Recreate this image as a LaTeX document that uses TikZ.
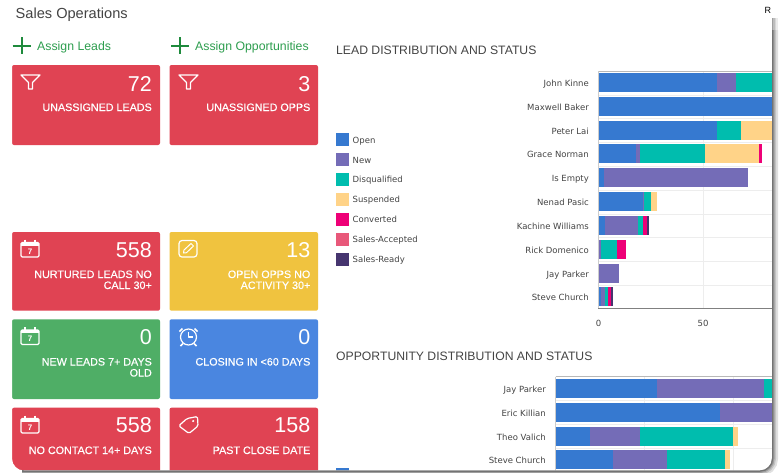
\documentclass[tikz,border=0pt]{standalone}
\usepackage{fontspec}
\setmainfont{Liberation Sans}
\newfontfamily\chartfont{DejaVu Sans}
\newfontfamily\cardfont[FakeBold=0.5]{Liberation Sans}
\definecolor{cred}{HTML}{E04353}
\definecolor{cyel}{HTML}{F0C33F}
\definecolor{cgrn}{HTML}{4FAE66}
\definecolor{cblu}{HTML}{4A86E0}
\definecolor{bO}{HTML}{3679D0}
\definecolor{bN}{HTML}{746CB7}
\definecolor{bD}{HTML}{00BDAE}
\definecolor{bS}{HTML}{FFD388}
\definecolor{bC}{HTML}{EE0077}
\definecolor{bA}{HTML}{E8587A}
\definecolor{bR}{HTML}{46356F}
\definecolor{txt}{HTML}{444444}
\definecolor{lnk}{HTML}{2E9E4F}
\definecolor{plus}{HTML}{1E8A3C}
\definecolor{gridc}{HTML}{EDEDED}
\tikzset{
 card/.style={fill=#1,rounded corners=2pt,draw=none},
 numtxt/.style={anchor=base east,inner sep=0pt,text=white,font=\fontsize{21.5}{22}\selectfont},
 labtxt/.style={anchor=base east,inner sep=0pt,text=white,align=right,font=\cardfont\fontsize{10.75}{11}\selectfont},
 title/.style={anchor=base west,inner sep=0pt,text=txt,font=\fontsize{12.2}{14}\selectfont},
 linktxt/.style={anchor=base west,inner sep=0pt,text=lnk,font=\fontsize{12.3}{14}\selectfont},
 rowlab/.style={anchor=base east,inner sep=0pt,text=txt,font=\chartfont\fontsize{8.5}{10}\selectfont},
 legtxt/.style={anchor=base west,inner sep=0pt,text=txt,font=\chartfont\fontsize{8.5}{10}\selectfont},
 ico/.style={draw=white,line width=1.2pt,line join=round},
 plusline/.style={draw=plus,line width=2pt},
}
\newcommand\iconfunnel[2]{\begin{scope}[shift={(#1,#2)}]
 \draw[ico] (0,0)--(19,0)--(11.5,7.5)--(11.5,14)--(7.5,14)--(7.5,7.5)--cycle;
\end{scope}}
\newcommand\iconcal[2]{\begin{scope}[shift={(#1,#2)}]
 \draw[ico,rounded corners=1.2pt] (0.5,3.5) rectangle (18.5,18);
 \fill[white] (0.5,3.5) rectangle (18.5,6.5);
 \draw[white,line width=1.6pt] (4.5,0.5)--(4.5,4) (14.5,0.5)--(14.5,4);
 \node[inner sep=0pt,text=white,font=\bfseries\fontsize{8}{8}\selectfont] (cal7#1x#2) at (9.5,12.5) {7};
\end{scope}}
\newcommand\barrow[3]{% top y, x0, list
 \foreach \c/\e [remember=\e as \p (initially #2)] in {#3}
  \fill[\c] (\p,#1) rectangle (\e,#1+18.8);
}
\begin{document}
\begin{tikzpicture}[x=1pt,y=-1pt]
\useasboundingbox (0,0) rectangle (779,472);
\fill[white] (0,0) rectangle (779,472);
% top texts
\node[anchor=base west,inner sep=0pt,text=txt,font=\fontsize{14.6}{16}\selectfont] (pagetitle) at (15.5,18) {Sales Operations};
\node[anchor=base west,inner sep=0pt,text=black,font=\fontsize{9}{10}\selectfont] (rcut) at (764.5,13) {R};
% assign links
\draw[plusline] (12.5,45.5)--(31,45.5) (21.8,37)--(21.8,54);
\draw[plusline] (171,45.5)--(189,45.5) (180,37)--(180,54);
\node[linktxt] (assignL) at (37,50) {Assign Leads};
\node[linktxt] (assignO) at (195,50) {Assign Opportunities};
% cards
\fill[card=cred] (12,65) rectangle (160,145);
\fill[card=cred] (169.5,65) rectangle (318,145);
\fill[card=cred] (12,232) rectangle (160,310.7);
\fill[card=cyel] (169.5,232) rectangle (318,310.7);
\fill[card=cgrn] (12,319.3) rectangle (160,399);
\fill[card=cblu] (169.5,319.3) rectangle (318,399);
\fill[card=cred] (12,407.7) rectangle (160,480);
\fill[card=cred] (169.5,407.7) rectangle (318,480);
% card text
\node[numtxt] (n1) at (152,91) {72};
\node[numtxt] (n2) at (310.5,91) {3};
\node[labtxt] (l1) at (152,111) {UNASSIGNED LEADS};
\node[labtxt] (l2) at (310.5,111) {UNASSIGNED OPPS};
\node[numtxt] (n3) at (152,257) {558};
\node[numtxt] (n4) at (310.5,257) {13};
\node[labtxt] (l3a) at (152,278) {NURTURED LEADS NO};
\node[labtxt] (l3b) at (152,289) {CALL 30+};
\node[labtxt] (l4a) at (310.5,278) {OPEN OPPS NO};
\node[labtxt] (l4b) at (310.5,289) {ACTIVITY 30+};
\node[numtxt] (n5) at (152,344.5) {0};
\node[numtxt] (n6) at (310.5,344.5) {0};
\node[labtxt] (l5a) at (152,365.5) {NEW LEADS 7+ DAYS};
\node[labtxt] (l5b) at (152,376.5) {OLD};
\node[labtxt] (l6) at (310.5,365.5) {CLOSING IN <60 DAYS};
\node[numtxt] (n7) at (152,432.5) {558};
\node[numtxt] (n8) at (310.5,432.5) {158};
\node[labtxt] (l7) at (152,454) {NO CONTACT 14+ DAYS};
\node[labtxt] (l8) at (310.5,454) {PAST CLOSE DATE};
% icons
\iconfunnel{21}{75}
\iconfunnel{179}{75}
\iconcal{20.5}{239}
\iconcal{20.5}{326.5}
\iconcal{20.5}{415}
\begin{scope}[shift={(178.5,240)}]
 \draw[ico,rounded corners=3pt] (0.5,0.5) rectangle (18.5,17);
 \draw[ico,line width=1pt] (5,13)--(5.5,10)--(12.5,3.5)--(15,6)--(8,12.7)--cycle;
\end{scope}
\begin{scope}[shift={(188.5,337)}]
 \draw[ico] (0,0) circle (8);
 \draw[ico] (0,-5)--(0,0)--(4.5,0);
 \draw[ico,line width=1.6pt] (-9,-5.5)--(-6,-8.5) (9,-5.5)--(6,-8.5) (-5.5,6.5)--(-8,9) (5.5,6.5)--(8,9);
\end{scope}
\draw[ico,rounded corners=1.5pt] (187,418.5)--(197.5,416.5)--(198,426)--(189,433.5)--(178.8,425.8)--cycle;
\fill[white] (193.2,421) circle (1.2);
% section titles
\node[title] (t1) at (336,54) {LEAD DISTRIBUTION AND STATUS};
\node[title] (t2) at (336,360) {OPPORTUNITY DISTRIBUTION AND STATUS};
% legend
\foreach \c/\y/\t [count=\i] in {bO/133/Open,bN/153/New,bD/172.6/Disqualified,bS/192.6/Suspended,bC/212.6/Converted,bA/232.6/Sales-Accepted,bR/252.6/Sales-Ready}{
 \fill[\c] (336,\y) rectangle ++(13,13);
 \node[legtxt] (leg\i) at (352.5,\y+10) {\t};
}
\fill[bO] (336,468) rectangle ++(13,6);
% chart 1 frame
\draw[gridc,line width=0.8pt] (703,71)--(703,308.7);
\foreach \y in {95,118,142,166,190,214,237.5,261.5,285}
 \draw[gridc,line width=0.8pt] (598.5,\y)--(772,\y);
\draw[black!28,line width=0.9pt] (598.5,71.3)--(772,71.3);
\draw[black!20,line width=0.9pt] (598.5,71)--(598.5,308.7);
\draw[black!50,line width=1pt] (598,308.7)--(772,308.7);
\barrow{73}{598.8}{bO/717,bN/736,bD/774}
\barrow{97}{598.8}{bO/774}
\barrow{120.7}{598.8}{bO/717,bD/740.7,bS/774}
\barrow{144.4}{598.8}{bO/636,bN/640,bD/705,bS/759.3,bC/762}
\barrow{168.4}{598.8}{bO/604.3,bN/748}
\barrow{192.3}{598.8}{bO/642.7,bN/644,bD/651,bS/657}
\barrow{216.3}{598.8}{bO/604.5,bN/638,bD/642.7,bC/646.5,bR/649}
\barrow{239.7}{598.8}{bN/601,bD/617,bC/625.5}
\barrow{264}{598.8}{bN/619}
\barrow{287.3}{598.8}{bO/601,bN/604.5,bD/607.5,bC/611,bR/613}
\foreach \n/\y [count=\i] in {John Kinne/73,Maxwell Baker/97,Peter Lai/120.7,Grace Norman/144.4,Is Empty/168.4,Nenad Pasic/192.3,Kachine Williams/216.3,Rick Domenico/239.7,Jay Parker/264,Steve Church/287.3}
 \node[rowlab] (ra\i) at (589,\y+13.3) {\n};
\node[anchor=base,inner sep=0pt,text=txt,font=\chartfont\fontsize{8.5}{10}\selectfont] (ax0) at (598.5,326) {0};
\node[anchor=base,inner sep=0pt,text=txt,font=\chartfont\fontsize{8.5}{10}\selectfont] (ax50) at (703,326) {50};
% chart 2 frame
\draw[gridc,line width=0.8pt] (644,376.7)--(644,472) (733,376.7)--(733,472);
\foreach \y in {400,424,448}
 \draw[gridc,line width=0.8pt] (555.7,\y)--(772,\y);
\draw[black!28,line width=0.9pt] (555.7,376.7)--(772,376.7);
\draw[black!20,line width=0.9pt] (555.7,376.7)--(555.7,472);
\barrow{379}{555.9}{bO/657,bN/764,bD/774}
\barrow{402.7}{555.9}{bO/720,bN/774}
\barrow{426.7}{555.9}{bO/590,bN/639.5,bD/733,bS/738}
\barrow{450.3}{555.9}{bO/613,bN/667,bD/724.7,bS/730}
\foreach \n/\y [count=\i] in {Jay Parker/379,Eric Killian/402.7,Theo Valich/426.7,Steve Church/450.3}
 \node[rowlab] (rb\i) at (546,\y+13.3) {\n};
% panel edge: cover outside the rounded panel, then soft shadow
\fill[white,even odd rule] (-1,-1) rectangle (780,473)
 {[rounded corners=12pt] (12,-20) -- (772,-20) -- (772,470.5) -- (12,470.5) -- cycle};
\begin{scope}[even odd rule]
 \clip (-1,-1) rectangle (780,473)
 {[rounded corners=12pt] (12,-20) -- (772,-20) -- (772,470.5) -- (12,470.5) -- cycle};
 \foreach \w/\g in {12/12,8/24,5/38,2.5/55}
  \draw[black!\g!white,line width=\w pt,rounded corners=12pt] (772,30) -- (772,470.5) -- (22,470.5);
 \foreach \w/\g in {12/8,8/16,5/26,2.5/38}
  \draw[black!\g!white,line width=\w pt] (772,18) -- (772,30);
\end{scope}
\end{tikzpicture}
\end{document}
